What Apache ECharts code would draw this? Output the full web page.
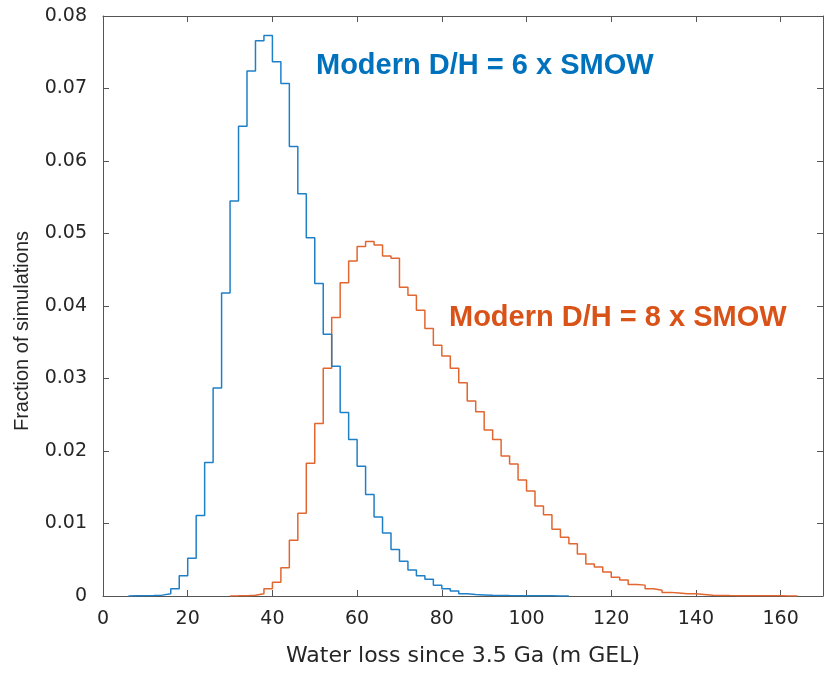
<!DOCTYPE html>
<html>
<head>
<meta charset="utf-8">
<script src="https://cdn.jsdelivr.net/npm/echarts@6/dist/echarts.min.js"></script>
<style>html,body{margin:0;padding:0;background:#fff}#c{width:825px;height:673px}</style>
</head>
<body>
<div id="c"></div>
<script>
// Histogram bin width and first edges
const binWidth = 2;
const blueStart = 6;
const orangeStart = 30;
// Modern D/H = 6 x SMOW (bins from 6 to 110)
const blueValues = [
  0.00002, 0.00003, 0.00006, 0.00012, 0.0003, 0.0010, 0.0028, 0.0052, 0.0111, 0.0184,
  0.0287, 0.0418, 0.0545, 0.0648, 0.0724, 0.0766, 0.0773, 0.0737, 0.0707, 0.0620,
  0.0555, 0.0494, 0.0431, 0.0361, 0.0317, 0.0253, 0.0216, 0.0179, 0.0140, 0.0109,
  0.0087, 0.0064, 0.0048, 0.0036, 0.0028, 0.0023, 0.0015, 0.0010, 0.0007, 0.0003,
  0.0002, 0.00015, 0.0001, 0.00008, 0.00006, 0.00005, 0.00004, 0.00003, 0.00002, 0.00002,
  0.00001, 0.00001
];
// Modern D/H = 8 x SMOW (bins from 30 to 164)
const orangeValues = [
  0.00002, 0.00005, 0.0001, 0.0003, 0.0010, 0.0019, 0.0039, 0.0077, 0.0114, 0.0183,
  0.0238, 0.0314, 0.0384, 0.0432, 0.0462, 0.0482, 0.0489, 0.0484, 0.0469, 0.0466,
  0.0426, 0.0415, 0.0394, 0.0369, 0.0346, 0.0331, 0.0314, 0.0294, 0.0269, 0.0254,
  0.0229, 0.0216, 0.0193, 0.0182, 0.0160, 0.0145, 0.0124, 0.0112, 0.0092, 0.0081,
  0.0072, 0.0058, 0.0044, 0.0040, 0.0033, 0.0026, 0.0022, 0.0016, 0.0015, 0.0010,
  0.0008, 0.0005, 0.0004, 0.0003, 0.0003, 0.0002, 0.0001, 0.00008, 0.00006, 0.00005,
  0.00004, 0.00003, 0.00003, 0.00002, 0.00002, 0.00001, 0.00001
];
const xTicks = [0, 20, 40, 60, 80, 100, 120, 140, 160];
const yTicks = [0, 0.01, 0.02, 0.03, 0.04, 0.05, 0.06, 0.07, 0.08];
const blueLabel = 'Modern D/H = 6 x SMOW';
const orangeLabel = 'Modern D/H = 8 x SMOW';
const xTitle = 'Water loss since 3.5 Ga (m GEL)';
const yTitle = 'Fraction of simulations';

function stairs(start, vals) {
  const pts = [[start, 0]];
  vals.forEach((v, i) => pts.push([start + i * binWidth, v]));
  pts.push([start + vals.length * binWidth, 0]);
  return pts;
}

const FONT = '"Liberation Sans", Arial, sans-serif';
const WIDE = '"DejaVu Sans", sans-serif';
const axisCol = '#555';
const txtCol = '#262626';

const chart = echarts.init(document.getElementById('c'), null, {renderer: 'canvas'});
const xBase = {
  type: 'value', min: 0, max: 170, interval: 20,
  axisLine: {show: true, onZero: false, lineStyle: {color: axisCol, width: 1}},
  axisTick: {show: true, inside: true, length: 6, lineStyle: {color: axisCol}},
  splitLine: {show: false}
};
const yBase = {
  type: 'value', min: 0, max: 0.08, interval: 0.01,
  axisLine: {show: true, onZero: false, lineStyle: {color: axisCol, width: 1}},
  axisTick: {show: true, inside: true, length: 6, lineStyle: {color: axisCol}},
  splitLine: {show: false}
};
chart.setOption({
  animation: false,
  backgroundColor: '#fff',
  grid: {left: 103, right: 2, top: 16, bottom: 77, containLabel: false},
  xAxis: [
    Object.assign({}, xBase, {
      position: 'bottom',
      name: xTitle, nameLocation: 'middle', nameGap: 49,
      nameTextStyle: {fontFamily: WIDE, fontSize: 22, color: txtCol},
      axisLabel: {
        fontFamily: WIDE, fontSize: 19, color: txtCol, margin: 14, showMaxLabel: false,
        formatter: v => xTicks.includes(v) ? String(v) : ''
      }
    }),
    Object.assign({}, xBase, {position: 'top', axisLabel: {show: false}})
  ],
  yAxis: [
    Object.assign({}, yBase, {
      position: 'left',
      axisLabel: {
        fontFamily: WIDE, fontSize: 19, color: txtCol, margin: 16,
        formatter: v => {
          const t = yTicks.find(k => Math.abs(k - v) < 1e-9);
          return t === undefined ? '' : (t === 0 ? '0' : t.toFixed(2));
        }
      }
    }),
    Object.assign({}, yBase, {position: 'right', axisLabel: {show: false}})
  ],
  series: [
    {
      type: 'line', name: blueLabel, step: 'end', symbol: 'none',
      xAxisIndex: 0, yAxisIndex: 0,
      lineStyle: {color: '#1f80c8', width: 1.5},
      data: stairs(blueStart, blueValues), z: 3
    },
    {
      type: 'line', name: orangeLabel, step: 'end', symbol: 'none',
      xAxisIndex: 0, yAxisIndex: 0,
      lineStyle: {color: '#e2662f', width: 1.5},
      data: stairs(orangeStart, orangeValues), z: 2
    }
  ],
  graphic: [
    {type: 'text', x: 22, y: 331, rotation: Math.PI / 2,
     style: {text: yTitle, fill: txtCol, font: '20px ' + FONT, align: 'center', verticalAlign: 'middle'}},
    {type: 'text', left: 316, top: 51, style: {text: blueLabel, fill: '#0072BD', font: 'bold 29px ' + FONT}},
    {type: 'text', left: 449, top: 303, style: {text: orangeLabel, fill: '#D95319', font: 'bold 29px ' + FONT}}
  ]
});
</script>
</body>
</html>
